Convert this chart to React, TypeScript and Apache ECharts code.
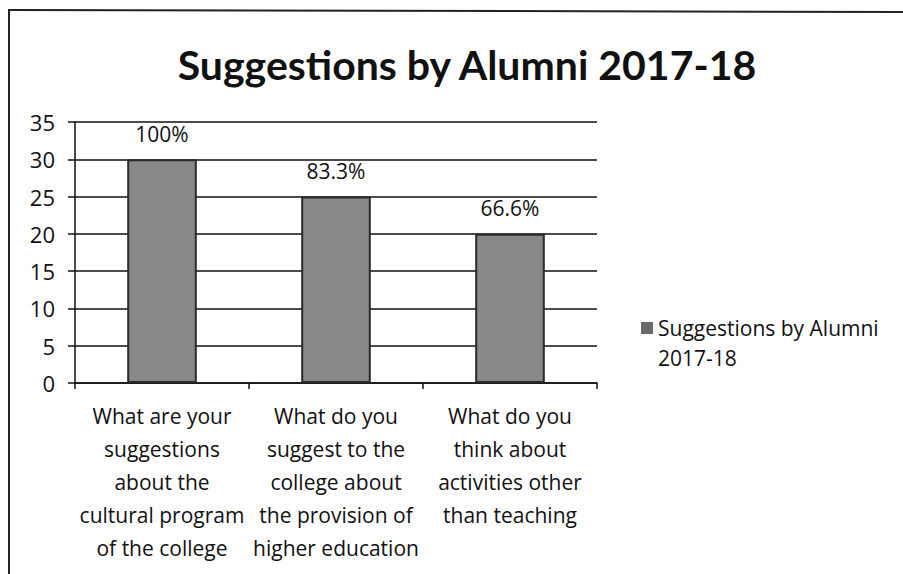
import React, { useEffect, useRef } from "react";
import * as echarts from "echarts";

const title = "Suggestions by Alumni 2017-18";
const seriesName = "Suggestions by Alumni 2017-18";
const categories = [
  "What are your\nsuggestions\nabout the\ncultural program\nof the college",
  "What do you\nsuggest to the\ncollege about\nthe provision of\nhigher education",
  "What do you\nthink about\nactivities other\nthan teaching",
];
const values = [30, 25, 20];
const percentLabels = ["100%", "83.3%", "66.6%"];
const yTicks = { min: 0, max: 35, interval: 5 };

const TITLE_FONT = "Lato, 'Open Sans', sans-serif";
const FONT = "'Open Sans', Lato, sans-serif";

export default function App() {
  const ref = useRef<HTMLDivElement>(null);
  useEffect(() => {
    if (!ref.current) return;
    const chart = echarts.init(ref.current, null, { renderer: "svg" });
    chart.setOption({
      animation: false,
      backgroundColor: "#ffffff",
      title: {
        text: title,
        left: 462,
        textAlign: "center",
        top: 39,
        textStyle: { fontFamily: TITLE_FONT, fontSize: 41, fontWeight: "bold", color: "#111" },
      },
      legend: {
        left: 636,
        top: 308,
        orient: "vertical",
        itemWidth: 12,
        itemHeight: 42,
        itemGap: 0,
        icon: "path://M0,0L12,0L12,12L0,12Z M0,42L12,42",
        itemStyle: { color: "#6a6a6a", borderWidth: 0 },
        formatter: () => "Suggestions by Alumni\n2017-18",
        textStyle: { fontFamily: FONT, fontSize: 21, color: "#111", lineHeight: 30 },
      },
      grid: { left: 75, right: 306, top: 122, bottom: 191, containLabel: false },
      xAxis: {
        type: "category",
        data: categories,
        axisLine: { lineStyle: { color: "#111", width: 1.5 } },
        axisTick: { show: true, length: 6, lineStyle: { color: "#111", width: 1.5 } },
        axisLabel: {
          interval: 0,
          margin: 16,
          fontFamily: FONT,
          fontSize: 21,
          lineHeight: 33,
          color: "#111",
          verticalAlign: "top",
        },
      },
      yAxis: {
        type: "value",
        min: yTicks.min,
        max: yTicks.max,
        interval: yTicks.interval,
        axisLine: { show: true, lineStyle: { color: "#111", width: 1.5 } },
        axisTick: { show: true, length: 7, lineStyle: { color: "#111", width: 1.5 } },
        splitLine: { show: true, lineStyle: { color: "#111", width: 1.5 } },
        axisLabel: { fontFamily: FONT, fontSize: 22, color: "#111", margin: 20 },
      },
      series: [
        {
          name: seriesName,
          type: "bar",
          data: values,
          barWidth: "40%",
          itemStyle: { color: "#888888", borderColor: "#2a2a2a", borderWidth: 2 },
          label: {
            show: true,
            position: "top",
            distance: 15,
            fontFamily: FONT,
            fontSize: 21,
            color: "#111",
            formatter: (p: any) => percentLabels[p.dataIndex],
          },
        },
      ],
      graphic: [
        { type: "line", shape: { x1: 8, y1: 10, x2: 903, y2: 12 }, style: { stroke: "#222", lineWidth: 2 } },
        { type: "line", shape: { x1: 9, y1: 10, x2: 9, y2: 574 }, style: { stroke: "#222", lineWidth: 2 } },
      ],
    });
    return () => chart.dispose();
  }, []);
  return <div ref={ref} style={{ width: 903, height: 574, position: "absolute", left: 0, top: 0 }} />;
}
